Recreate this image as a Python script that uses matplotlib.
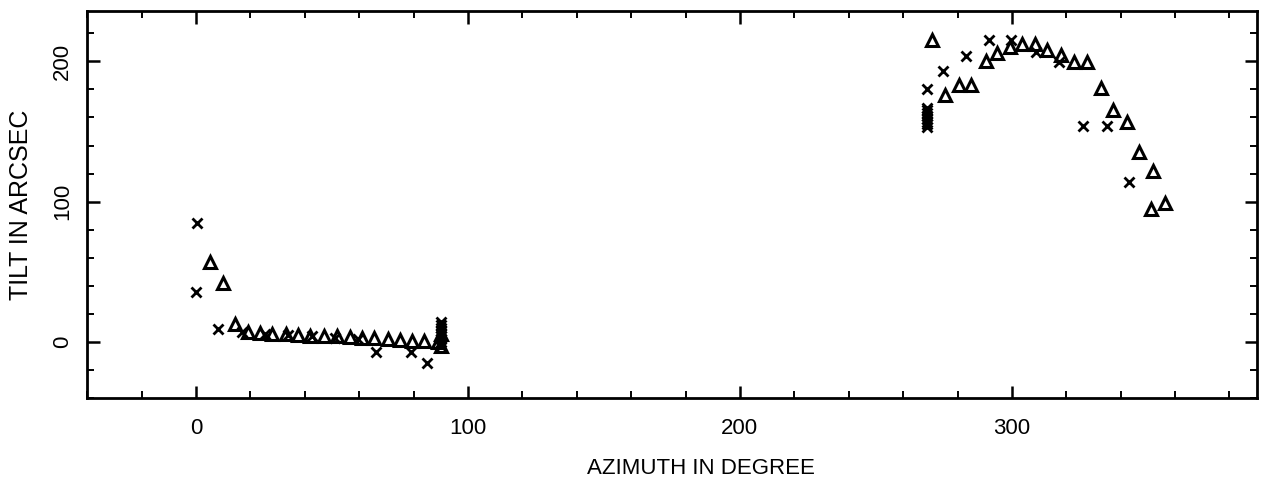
import matplotlib

matplotlib.use("Agg")
import matplotlib.pyplot as plt
from matplotlib import font_manager
from matplotlib.ticker import FixedLocator, MultipleLocator

# narrow plotter-like lettering if available
installed = {f.name for f in font_manager.fontManager.ttflist}
if "Liberation Sans Narrow" in installed:
    plt.rcParams["font.family"] = ["Liberation Sans Narrow", "DejaVu Sans"]
else:
    plt.rcParams["font.family"] = ["Liberation Sans", "DejaVu Sans"]

# open triangles: tilt measured in the first run
tri_az = [5, 10, 14.5, 19, 23.5, 28, 33, 37.5, 42, 47, 52, 56.5, 61, 65.5, 70.5, 75, 79.5, 84, 89, 90, 90,
          270.7, 275.4, 280.5, 285, 290.3, 294.5, 299.4, 303.8, 308.4, 313, 318.2, 322.9, 327.7,
          332.6, 337.3, 342.2, 346.9, 351.7, 351.2, 356.3]
tri_tilt = [57, 42, 13, 7, 6.5, 6, 5.5, 5, 4.5, 4, 4, 3.5, 3, 3, 2, 1.5, 1, 1, 0, -3, 6,
            215, 176, 183, 183, 200.5, 206, 210, 212.6, 212, 208, 204.8, 199.3, 199.3,
            181, 165.5, 156.7, 135.3, 122, 94.6, 99.3]

# crosses: tilt measured in the second run
x_az = [0.5, 0, 8, 17, 25.5, 34, 42.5, 51, 59.5, 66.3, 79.2, 85.1,
        90, 90, 90, 90, 90, 90, 90, 90, 90,
        268.8, 268.8, 268.8, 268.8, 268.8, 268.8, 268.8, 268.8, 268.8,
        274.6, 283.2, 291.6, 299.8, 308.8, 317.4, 326, 334.8, 343]
x_tilt = [85, 36, 9, 7, 6, 5, 4, 3, 2, -7.3, -6.9, -15,
          -3, 0, 2, 4, 6, 8, 10, 12, 14,
          153, 155, 157, 159, 161, 163, 165, 167, 180,
          193, 204, 215, 215.5, 207, 199.6, 153.6, 153.6, 114.3]

fig = plt.figure(figsize=(12.63, 4.91), dpi=100)
ax = fig.add_axes([0.069, 0.189, 0.926, 0.789])

ax.plot(tri_az, tri_tilt, linestyle="none", marker="^", ms=8.5, mfc="none",
        mec="black", mew=2.2)
ax.plot(x_az, x_tilt, linestyle="none", marker="x", ms=6.5, mec="black", mew=2.0)

ax.set_xlim(-40, 390)
ax.set_ylim(-40, 236)

ax.xaxis.set_major_locator(FixedLocator([0, 100, 200, 300]))
ax.xaxis.set_minor_locator(MultipleLocator(20))
ax.yaxis.set_major_locator(FixedLocator([0, 100, 200]))
ax.yaxis.set_minor_locator(MultipleLocator(20))

ax.tick_params(which="both", direction="in", top=True, right=True, colors="black")
ax.tick_params(which="major", length=9, width=1.8, labelsize=16, pad=14)
ax.tick_params(axis="y", which="major", pad=10)
ax.tick_params(which="minor", length=5, width=1.4)
for lab in ax.get_yticklabels():
    lab.set_rotation(90)
    lab.set_va("center")

for sp in ax.spines.values():
    sp.set_linewidth(2.0)

ax.set_xlabel("AZIMUTH IN DEGREE", fontsize=16)
ax.xaxis.set_label_coords(0.525, -0.155)
ax.set_ylabel("TILT IN ARCSEC", fontsize=18, labelpad=14)

fig.savefig("out.png", dpi=100)
